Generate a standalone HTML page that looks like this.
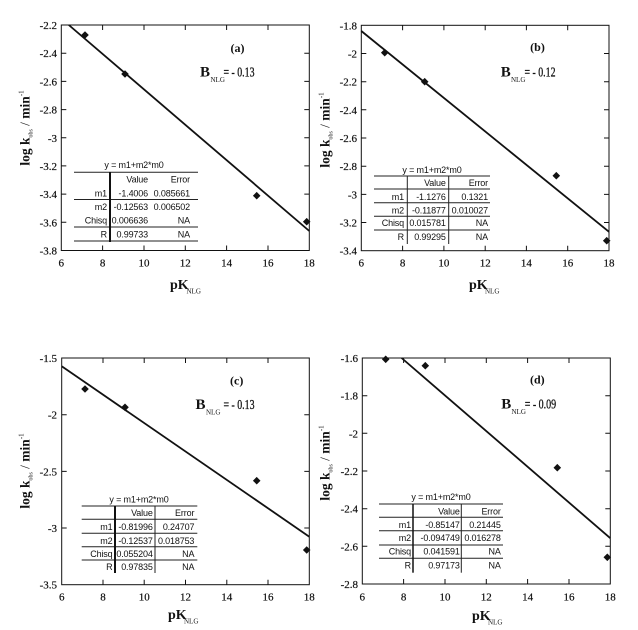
<!DOCTYPE html>
<html><head><meta charset="utf-8"><style>
html,body{margin:0;padding:0;background:#fff;}
svg{display:block;}
.tk{font-family:"Liberation Serif",serif;font-size:11px;fill:#111;stroke:#111;stroke-width:0.2;}
.tb{font-family:"Liberation Sans",sans-serif;font-size:9px;letter-spacing:-0.15px;fill:#111;}
.an{font-family:"Liberation Serif",serif;fill:#111;}
.fr{fill:none;stroke:#111;stroke-width:1;}
.rl{stroke:#111;stroke-width:1.8;fill:none;}
.tl{stroke:#222;stroke-width:1;fill:none;}
</style></head><body>
<svg width="638" height="630" viewBox="0 0 638 630" xmlns="http://www.w3.org/2000/svg">
<rect width="638" height="630" fill="#fff"/>

<!-- ================= Panel (a) ================= -->
<rect class="fr" x="61.3" y="25" width="248" height="225.5"/>
<path class="fr" d="M102.6 250.5v-5M144 250.5v-5M185.3 250.5v-5M226.6 250.5v-5M268 250.5v-5M102.6 25v5M144 25v5M185.3 25v5M226.6 25v5M268 25v5M61.3 53.2h5M61.3 81.4h5M61.3 109.6h5M61.3 137.8h5M61.3 165.9h5M61.3 194.1h5M61.3 222.3h5M309.3 53.2h-5M309.3 81.4h-5M309.3 109.6h-5M309.3 137.8h-5M309.3 165.9h-5M309.3 194.1h-5M309.3 222.3h-5"/>
<g class="tk" text-anchor="end">
<text x="57" y="29">-2.2</text><text x="57" y="57.2">-2.4</text><text x="57" y="85.4">-2.6</text><text x="57" y="113.6">-2.8</text><text x="57" y="141.8">-3</text><text x="57" y="169.9">-3.2</text><text x="57" y="198.1">-3.4</text><text x="57" y="226.3">-3.6</text><text x="57" y="254.5">-3.8</text>
</g>
<g class="tk" text-anchor="middle">
<text x="61.3" y="266.5">6</text><text x="102.6" y="266.5">8</text><text x="144" y="266.5">10</text><text x="185.3" y="266.5">12</text><text x="226.6" y="266.5">14</text><text x="268" y="266.5">16</text><text x="309.3" y="266.5">18</text>
</g>
<line class="rl" x1="68.8" y1="25" x2="309.3" y2="231"/>
<g fill="#111">
<path d="M85 31.2L88.8 35L85 38.8L81.2 35Z"/><path d="M125 70.2L128.8 74L125 77.8L121.2 74Z"/><path d="M256.7 191.9L260.5 195.7L256.7 199.5L252.9 195.7Z"/><path d="M306.7 217.9L310.5 221.7L306.7 225.5L302.9 221.7Z"/>
</g>
<text class="an" x="237.5" y="52" font-size="12" font-weight="bold" text-anchor="middle">(a)</text>
<text class="an" x="200" y="76.5" font-size="15" font-weight="bold">B</text>
<text class="an" x="210.5" y="82" font-size="7">NLG</text>
<text class="an" x="223.5" y="76.5" font-size="14" textLength="31" lengthAdjust="spacingAndGlyphs" stroke="#111" stroke-width="0.3">= - 0.13</text>
<text class="an" x="170" y="289" font-size="14" font-weight="bold">pK</text>
<text class="an" x="186.5" y="293.5" font-size="7">NLG</text>
<text class="an" transform="translate(29.5,128) rotate(-90)" text-anchor="middle" font-size="13.5"><tspan font-weight="bold">log k</tspan><tspan font-size="6" dy="3">obs</tspan><tspan dy="-3"> / </tspan><tspan font-weight="bold">min</tspan><tspan font-size="7" dy="-6">-1</tspan></text>
<!-- table a -->
<text class="tb" x="134" y="168" text-anchor="middle">y = m1+m2*m0</text>
<path class="tl" d="M74 172.3H198M74 199.5H198M74 227H198M74 241H198"/>
<line x1="110" y1="172" x2="110" y2="242" stroke="#111" stroke-width="2"/>
<g class="tb" text-anchor="end">
<text x="148" y="182.5">Value</text><text x="190" y="182.5">Error</text>
<text x="107" y="196.5">m1</text><text x="148" y="196.5">-1.4006</text><text x="190" y="196.5">0.085661</text>
<text x="107" y="210">m2</text><text x="148" y="210">-0.12563</text><text x="190" y="210">0.006502</text>
<text x="107" y="223.5">Chisq</text><text x="148" y="223.5">0.006636</text><text x="190" y="223.5">NA</text>
<text x="107" y="237.5">R</text><text x="148" y="237.5">0.99733</text><text x="190" y="237.5">NA</text>
</g>

<!-- ================= Panel (b) ================= -->
<rect class="fr" x="361.3" y="25.3" width="247.7" height="225.4"/>
<path class="fr" d="M402.6 250.7v-5M443.9 250.7v-5M485.2 250.7v-5M526.4 250.7v-5M567.7 250.7v-5M402.6 25.3v5M443.9 25.3v5M485.2 25.3v5M526.4 25.3v5M567.7 25.3v5M361.3 53.5h5M361.3 81.7h5M361.3 109.8h5M361.3 138h5M361.3 166.2h5M361.3 194.4h5M361.3 222.5h5M609 53.5h-5M609 81.7h-5M609 109.8h-5M609 138h-5M609 166.2h-5M609 194.4h-5M609 222.5h-5"/>
<g class="tk" text-anchor="end">
<text x="357" y="29.3">-1.8</text><text x="357" y="57.5">-2</text><text x="357" y="85.7">-2.2</text><text x="357" y="113.8">-2.4</text><text x="357" y="142">-2.6</text><text x="357" y="170.2">-2.8</text><text x="357" y="198.4">-3</text><text x="357" y="226.5">-3.2</text><text x="357" y="254.7">-3.4</text>
</g>
<g class="tk" text-anchor="middle">
<text x="361.3" y="266.5">6</text><text x="402.6" y="266.5">8</text><text x="443.9" y="266.5">10</text><text x="485.2" y="266.5">12</text><text x="526.4" y="266.5">14</text><text x="567.7" y="266.5">16</text><text x="609" y="266.5">18</text>
</g>
<line class="rl" x1="361.3" y1="31" x2="609" y2="231.8"/>
<g fill="#111">
<path d="M384.7 48.9L388.5 52.7L384.7 56.5L380.9 52.7Z"/><path d="M424.7 77.9L428.5 81.7L424.7 85.5L420.9 81.7Z"/><path d="M556.3 171.9L560.1 175.7L556.3 179.5L552.5 175.7Z"/><path d="M606.7 236.9L610.5 240.7L606.7 244.5L602.9 240.7Z"/>
</g>
<text class="an" x="537.5" y="51" font-size="12" font-weight="bold" text-anchor="middle">(b)</text>
<text class="an" x="500.7" y="76.5" font-size="15" font-weight="bold">B</text>
<text class="an" x="511" y="82" font-size="7">NLG</text>
<text class="an" x="524.5" y="76.5" font-size="14" textLength="31" lengthAdjust="spacingAndGlyphs" stroke="#111" stroke-width="0.3">= - 0.12</text>
<text class="an" x="469" y="289" font-size="14" font-weight="bold">pK</text>
<text class="an" x="485" y="293.5" font-size="7">NLG</text>
<text class="an" transform="translate(329.5,130) rotate(-90)" text-anchor="middle" font-size="13.5"><tspan font-weight="bold">log k</tspan><tspan font-size="6" dy="3">obs</tspan><tspan dy="-3"> / </tspan><tspan font-weight="bold">min</tspan><tspan font-size="7" dy="-6">-1</tspan></text>
<!-- table b -->
<text class="tb" x="432" y="172.8" text-anchor="middle">y = m1+m2*m0</text>
<path class="tl" d="M374 176H490M374 189H490M374 202.7H490M374 216.3H490M374 230H490"/>
<path class="tl" d="M407.3 176V244M448.7 176V244"/>
<g class="tb" text-anchor="end">
<text x="445.7" y="186.2">Value</text><text x="488" y="186.2">Error</text>
<text x="404" y="200">m1</text><text x="445.7" y="200">-1.1276</text><text x="488" y="200">0.1321</text>
<text x="404" y="213.5">m2</text><text x="445.7" y="213.5">-0.11877</text><text x="488" y="213.5">0.010027</text>
<text x="404" y="226.2">Chisq</text><text x="445.7" y="226.2">0.015781</text><text x="488" y="226.2">NA</text>
<text x="404" y="240.2">R</text><text x="445.7" y="240.2">0.99295</text><text x="488" y="240.2">NA</text>
</g>

<!-- ================= Panel (c) ================= -->
<rect class="fr" x="61.7" y="358" width="247.6" height="226.7"/>
<path class="fr" d="M103 584.7v-5M144.2 584.7v-5M185.5 584.7v-5M226.8 584.7v-5M268 584.7v-5M103 358v5M144.2 358v5M185.5 358v5M226.8 358v5M268 358v5M61.7 414.7h5M61.7 471.4h5M61.7 528h5M309.3 414.7h-5M309.3 471.4h-5M309.3 528h-5"/>
<g class="tk" text-anchor="end">
<text x="57" y="362">-1.5</text><text x="57" y="418.7">-2</text><text x="57" y="475.4">-2.5</text><text x="57" y="532">-3</text><text x="57" y="588.7">-3.5</text>
</g>
<g class="tk" text-anchor="middle">
<text x="61.7" y="600.5">6</text><text x="103" y="600.5">8</text><text x="144.2" y="600.5">10</text><text x="185.5" y="600.5">12</text><text x="226.8" y="600.5">14</text><text x="268" y="600.5">16</text><text x="309.3" y="600.5">18</text>
</g>
<line class="rl" x1="61.7" y1="366.2" x2="309.3" y2="536.7"/>
<g fill="#111">
<path d="M85 385.2L88.8 389L85 392.8L81.2 389Z"/><path d="M125 403.5L128.8 407.3L125 411.1L121.2 407.3Z"/><path d="M256.7 476.9L260.5 480.7L256.7 484.5L252.9 480.7Z"/><path d="M306.7 546.2L310.5 550L306.7 553.8L302.9 550Z"/>
</g>
<text class="an" x="236.7" y="384.5" font-size="12" font-weight="bold" text-anchor="middle">(c)</text>
<text class="an" x="195.5" y="409" font-size="15" font-weight="bold">B</text>
<text class="an" x="206" y="414.5" font-size="7">NLG</text>
<text class="an" x="223.5" y="409" font-size="14" textLength="31" lengthAdjust="spacingAndGlyphs" stroke="#111" stroke-width="0.3">= - 0.13</text>
<text class="an" x="168" y="619" font-size="14" font-weight="bold">pK</text>
<text class="an" x="184" y="623.5" font-size="7">NLG</text>
<text class="an" transform="translate(29.5,471) rotate(-90)" text-anchor="middle" font-size="13.5"><tspan font-weight="bold">log k</tspan><tspan font-size="6" dy="3">obs</tspan><tspan dy="-3"> / </tspan><tspan font-weight="bold">min</tspan><tspan font-size="7" dy="-6">-1</tspan></text>
<!-- table c -->
<text class="tb" x="139" y="502.5" text-anchor="middle">y = m1+m2*m0</text>
<path class="tl" d="M81.7 506H197.3M81.7 519.3H197.3M81.7 533.3H197.3M81.7 546.7H197.3M81.7 560H197.3"/>
<line x1="115" y1="506" x2="115" y2="573" stroke="#111" stroke-width="2"/>
<line class="tl" x1="155" y1="506" x2="155" y2="573"/>
<g class="tb" text-anchor="end">
<text x="152.7" y="516.2">Value</text><text x="194.3" y="516.2">Error</text>
<text x="112.5" y="530.2">m1</text><text x="152.7" y="530.2">-0.81996</text><text x="194.3" y="530.2">0.24707</text>
<text x="112.5" y="543.8">m2</text><text x="152.7" y="543.8">-0.12537</text><text x="194.3" y="543.8">0.018753</text>
<text x="112.5" y="556.8">Chisq</text><text x="152.7" y="556.8">0.055204</text><text x="194.3" y="556.8">NA</text>
<text x="112.5" y="570.2">R</text><text x="152.7" y="570.2">0.97835</text><text x="194.3" y="570.2">NA</text>
</g>

<!-- ================= Panel (d) ================= -->
<rect class="fr" x="362.3" y="358" width="248" height="226"/>
<path class="fr" d="M403.6 584v-5M445 584v-5M486.3 584v-5M527.6 584v-5M569 584v-5M403.6 358v5M445 358v5M486.3 358v5M527.6 358v5M569 358v5M362.3 395.7h5M362.3 433.3h5M362.3 471h5M362.3 508.7h5M362.3 546.3h5M610.3 395.7h-5M610.3 433.3h-5M610.3 471h-5M610.3 508.7h-5M610.3 546.3h-5"/>
<g class="tk" text-anchor="end">
<text x="358" y="362">-1.6</text><text x="358" y="399.7">-1.8</text><text x="358" y="437.3">-2</text><text x="358" y="475">-2.2</text><text x="358" y="512.7">-2.4</text><text x="358" y="550.3">-2.6</text><text x="358" y="588">-2.8</text>
</g>
<g class="tk" text-anchor="middle">
<text x="362.3" y="600.5">6</text><text x="403.6" y="600.5">8</text><text x="445" y="600.5">10</text><text x="486.3" y="600.5">12</text><text x="527.6" y="600.5">14</text><text x="569" y="600.5">16</text><text x="610.3" y="600.5">18</text>
</g>
<line class="rl" x1="401.6" y1="358" x2="610.3" y2="538.2"/>
<g fill="#111">
<path d="M385.7 355.5L389.5 359.3L385.7 363.1L381.9 359.3Z"/><path d="M425.3 361.9L429.1 365.7L425.3 369.5L421.5 365.7Z"/><path d="M557.3 463.9L561.1 467.7L557.3 471.5L553.5 467.7Z"/><path d="M607.3 553.5L611.1 557.3L607.3 561.1L603.5 557.3Z"/>
</g>
<text class="an" x="537.3" y="383.5" font-size="12" font-weight="bold" text-anchor="middle">(d)</text>
<text class="an" x="501.3" y="408.3" font-size="15" font-weight="bold">B</text>
<text class="an" x="511.5" y="413.8" font-size="7">NLG</text>
<text class="an" x="524.7" y="408.3" font-size="14" textLength="31.5" lengthAdjust="spacingAndGlyphs" stroke="#111" stroke-width="0.3">= - 0.09</text>
<text class="an" x="472" y="620" font-size="14" font-weight="bold">pK</text>
<text class="an" x="488" y="624.5" font-size="7">NLG</text>
<text class="an" transform="translate(329.5,463) rotate(-90)" text-anchor="middle" font-size="13.5"><tspan font-weight="bold">log k</tspan><tspan font-size="6" dy="3">obs</tspan><tspan dy="-3"> / </tspan><tspan font-weight="bold">min</tspan><tspan font-size="7" dy="-6">-1</tspan></text>
<!-- table d -->
<text class="tb" x="441" y="500" text-anchor="middle">y = m1+m2*m0</text>
<path class="tl" d="M379 504H503M379 517.3H503M379 530.7H503M379 545H503M379 558.3H503"/>
<line x1="413" y1="504" x2="413" y2="572.7" stroke="#111" stroke-width="1.5"/>
<line class="tl" x1="461.3" y1="504" x2="461.3" y2="572.7"/>
<g class="tb" text-anchor="end">
<text x="459.7" y="514.5">Value</text><text x="500.7" y="514.5">Error</text>
<text x="411" y="527.8">m1</text><text x="459.7" y="527.8">-0.85147</text><text x="500.7" y="527.8">0.21445</text>
<text x="411" y="541.2">m2</text><text x="459.7" y="541.2">-0.094749</text><text x="500.7" y="541.2">0.016278</text>
<text x="411" y="554.5">Chisq</text><text x="459.7" y="554.5">0.041591</text><text x="500.7" y="554.5">NA</text>
<text x="411" y="568.5">R</text><text x="459.7" y="568.5">0.97173</text><text x="500.7" y="568.5">NA</text>
</g>
</svg>
</body></html>
